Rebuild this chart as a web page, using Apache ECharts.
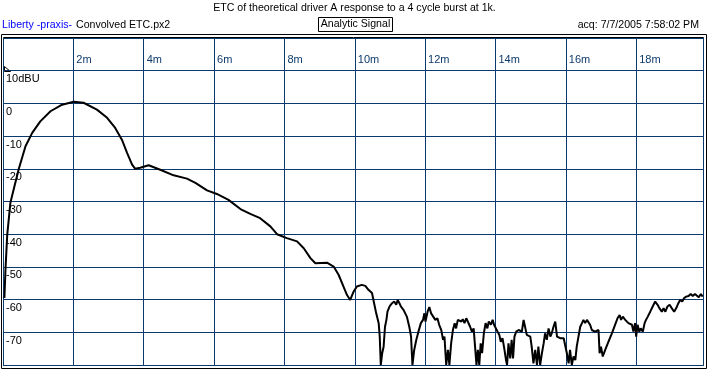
<!DOCTYPE html>
<html><head><meta charset="utf-8">
<script src="https://cdn.jsdelivr.net/npm/echarts@6/dist/echarts.min.js"></script>
<style>html,body{margin:0;padding:0;background:#fff}#c{width:709px;height:380px}</style>
</head><body><div id="c"></div>
<script>
const titleText = 'ETC of theoretical driver A response to a 4 cycle burst at 1k.';
const sourceLabel = 'Liberty -praxis-';
const fileLabel = 'Convolved ETC.px2';
const modeLabel = 'Analytic Signal';
const acqLabel = 'acq: 7/7/2005 7:58:02 PM';
const xTicks = [0, 2, 4, 6, 8, 10, 12, 14, 16, 18];
const yTicks = [20, 10, 0, -10, -20, -30, -40, -50, -60, -70, -80];
const timeMs = [
  0.04,0.07,0.12,0.21,0.35,0.45,0.64,0.83,1.06,1.35,1.68,2.01,2.29,2.67,2.96,3.19,3.38,3.53,3.67,3.76,
  3.90,4.14,4.47,4.85,5.23,5.47,5.80,6.08,6.41,6.75,7.03,7.31,7.60,7.79,8.07,8.36,8.55,8.74,8.88,9.21,
  9.40,9.54,
  9.68,9.78,9.87,9.97,10.06,10.20,10.30,10.39,10.49,10.55,10.61,10.68,10.71,10.74,10.78,10.82,10.86,10.90,10.93,10.99,
  11.06,11.12,11.18,11.22,11.27,11.31,11.39,11.48,11.55,11.60,11.64,11.69,11.75,11.81,11.88,11.94,11.98,12.01,12.07,12.12,
  12.17,12.22,12.29,12.35,12.40,12.46,12.51,12.55,12.60,12.65,12.69,12.74,12.79,12.84,12.88,12.93,12.98,13.03,13.07,13.12,
  13.17,13.22,13.28,13.33,13.38,13.42,13.46,13.50,13.54,13.58,13.62,13.67,13.72,13.77,13.81,13.87,13.92,13.96,14.01,14.06,
  14.11,14.15,14.20,14.25,14.30,14.33,14.37,14.42,14.46,14.50,14.54,14.59,14.66,14.70,14.75,14.80,14.85,
  14.89,14.99,15.03,15.08,15.13,15.18,15.22,15.27,15.32,15.37,15.41,15.46,15.51,15.56,15.60,15.65,15.70,15.75,15.79,15.84,
  15.89,15.94,15.98,16.03,16.08,16.12,16.17,16.22,16.27,16.31,16.36,16.41,16.46,16.50,16.55,16.60,16.65,16.69,16.74,16.79,
  16.83,16.88,16.93,16.96,17.00,17.05,17.12,17.21,17.31,17.40,17.47,17.53,17.57,17.62,17.69,17.73,17.78,17.83,17.88,17.92,
  17.97,18.00,18.04,18.09,18.13,18.19,18.24,18.28,18.33,18.40,18.47,18.54,18.61,18.66,18.73,18.78,18.83,18.89,18.95,19.01,
  19.08,19.14,19.20,19.25,19.31,19.36,19.42,19.49,19.55,19.61,19.67,19.72,19.78,19.84,19.89
];
const levelDb = [
  -59.5,-50.9,-40.2,-30.4,-24.3,-20.0,-13.1,-9.0,-5.5,-2.4,-0.4,0.5,0.2,-1.9,-4.4,-7.5,-11.1,-15.2,-18.7,-20.0,
  -19.7,-18.9,-20.3,-22.0,-23.0,-24.3,-26.6,-27.7,-29.5,-32.3,-33.8,-35.1,-37.6,-40.0,-41.2,-42.2,-44.3,-47.3,-48.9,-48.7,
  -49.9,-52.4,
  -56.0,-58.6,-60.1,-57.5,-56.0,-55.5,-55.8,-57.0,-58.0,-61.1,-64.2,-67.2,-71.3,-80.0,-76.4,-74.4,-68.3,-66.2,-63.7,-62.1,
  -61.1,-60.6,-61.6,-60.1,-61.1,-62.1,-63.2,-65.2,-68.3,-71.3,-80.0,-75.4,-72.3,-69.8,-67.2,-66.2,-64.2,-66.7,-63.7,-62.3,
  -64.2,-64.7,-66.2,-65.7,-67.7,-69.3,-72.3,-71.3,-80.0,-75.4,-80.0,-73.4,-69.3,-67.2,-68.8,-66.2,-65.7,-66.7,-66.0,-67.2,
  -65.7,-66.2,-68.3,-69.8,-68.8,-74.4,-80.0,-75.4,-80.0,-73.4,-76.4,-70.3,-67.2,-68.8,-66.7,-67.7,-66.2,-67.7,-67.2,-69.8,
  -70.8,-72.9,-71.8,-74.9,-78.5,-80.0,-73.4,-78.0,-72.3,-78.0,-71.3,-69.8,-69.3,-68.8,-69.8,-66.2,-65.7,
  -70.8,-71.3,-74.4,-79.5,-75.4,-80.0,-74.4,-80.0,-76.4,-73.4,-70.3,-72.3,-68.8,-71.3,-70.3,-68.3,-66.7,-71.3,-70.8,-71.8,
  -72.3,-71.8,-73.9,-76.4,-79.5,-75.4,-80.0,-77.4,-78.5,-74.4,-71.3,-68.3,-67.2,-66.2,-67.2,-66.2,-66.7,-67.7,-69.3,-68.8,
  -69.8,-70.3,-69.3,-76.4,-74.4,-77.4,-75.4,-72.9,-70.3,-67.7,-65.7,-64.7,-66.2,-65.2,-66.2,-65.7,-67.2,-66.7,-67.7,-69.8,
  -67.2,-71.3,-67.7,-69.8,-68.8,-69.8,-67.2,-66.2,-65.2,-63.7,-62.1,-60.6,-61.6,-62.6,-63.7,-62.6,-63.7,-62.1,-61.6,-62.6,
  -63.7,-62.6,-61.1,-60.1,-60.6,-59.6,-59.1,-58.9,-58.3,-58.9,-58.3,-58.6,-59.3,-58.3,-59.1
];

const FONT = 'Liberation Sans';
const FS = '10.6px ';
const GRID = '#0d3a6c';
const chart = echarts.init(document.getElementById('c'), null, {renderer: 'canvas'});
const seriesData = timeMs.map((t, i) => [t, levelDb[i]]);
chart.setOption({
  animation: false,
  backgroundColor: '#ffffff',
  textStyle: {fontFamily: FONT},
  grid: {left: 3, top: 38, width: 700, height: 327, containLabel: false},
  xAxis: {
    type: 'value', position: 'top', min: 0, max: 19.9, interval: 2,
    axisLine: {show: false}, axisTick: {show: false},
    splitLine: {show: true, lineStyle: {color: GRID, width: 1}},
    axisLabel: {
      inside: true, align: 'left', verticalAlign: 'middle', margin: 22, padding: [0,0,0,3],
      color: '#0d3a6c', fontSize: 11, fontFamily: FONT,
      showMaxLabel: false,
      formatter: v => (xTicks.indexOf(v) > 0 ? v + 'm' : '')
    }
  },
  yAxis: {
    type: 'value', min: -80, max: 20, interval: 10,
    axisLine: {show: false}, axisTick: {show: false},
    splitLine: {show: true, lineStyle: {color: GRID, width: 1}},
    axisLabel: {
      inside: true, align: 'left', verticalAlign: 'top', margin: 3, padding: [3,0,0,0],
      color: '#000', fontSize: 11, fontFamily: FONT,
      formatter: v => (v === 10 ? '10dBU' : (v === yTicks[0] || v === yTicks[yTicks.length - 1] ? '' : String(v)))
    }
  },
  series: [{
    type: 'line', data: seriesData, symbol: 'none', smooth: false,
    lineStyle: {color: '#000', width: 2}, clip: true
  }],
  graphic: [
    {type: 'text', left: 'center', top: 3, style: {text: titleText, fill: '#000', font: FS + FONT}},
    {type: 'text', left: 2, top: 20, style: {text: sourceLabel, fill: '#0000ff', font: FS + FONT}},
    {type: 'text', left: 76, top: 20, style: {text: fileLabel, fill: '#000', font: FS + FONT}},
    {type: 'rect', shape: {x: 318.5, y: 17.5, width: 74, height: 14}, style: {fill: 'none', stroke: '#000', lineWidth: 1}},
    {type: 'text', x: 355.5, y: 19, style: {text: modeLabel, fill: '#000', font: FS + FONT, align: 'center'}},
    {type: 'text', right: 10, top: 20, style: {text: acqLabel, fill: '#000', font: FS + FONT}},
    {type: 'rect', shape: {x: 1.5, y: 34.5, width: 705, height: 334}, style: {fill: 'none', stroke: '#000', lineWidth: 1}},
    {type: 'rect', shape: {x: 3.5, y: 37.5, width: 700, height: 328}, style: {fill: 'none', stroke: '#000', lineWidth: 1}},
    {type: 'polyline', shape: {points: [[4.5, 66.5], [10.5, 71.5], [4.5, 71.5], [4.5, 66.5]]}, style: {fill: 'none', stroke: '#000', lineWidth: 1}}
  ]
});
</script></body></html>
